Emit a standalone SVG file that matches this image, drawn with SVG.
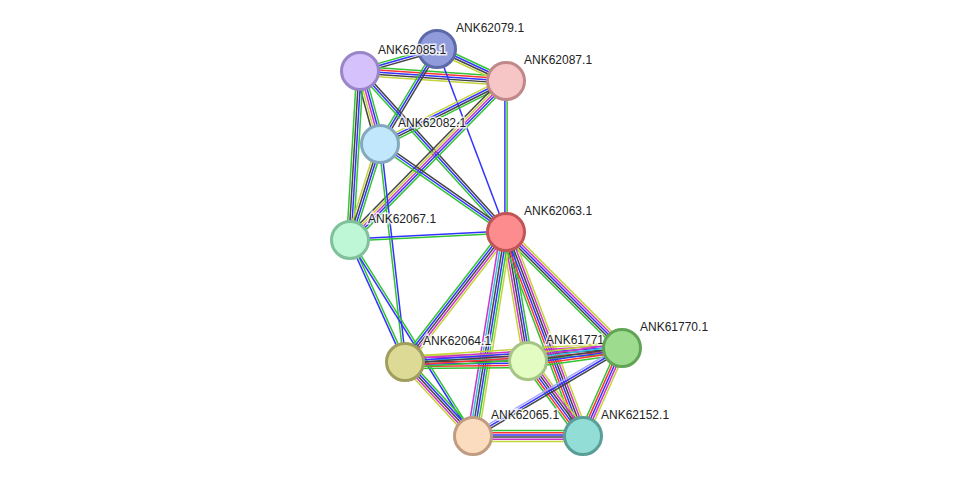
<svg xmlns="http://www.w3.org/2000/svg" width="976" height="482" viewBox="0 0 976 482">
<style>
path{fill:none;stroke-width:1.5}
.y{stroke:#c4d43a}.g{stroke:#33c433}.b{stroke:#3333ff}.k{stroke:#444}.m{stroke:#cc33cc}.r{stroke:#ff3333}.c{stroke:#33c0e0}.lb{stroke:#a8a8ff}
.n{stroke-width:3}
text{font-family:"Liberation Sans",Arial,sans-serif;font-size:12px;fill:#222;stroke:#fff;stroke-width:3;stroke-opacity:.8;paint-order:stroke}
</style>
<rect width="976" height="482" fill="#fff"/>
<g id="edges">
<g transform="translate(360 71) rotate(-15.9)"><path class="g" d="M0 -2.2H80"/><path class="b" d="M0 0H80"/><path class="k" d="M0 2.2H80"/></g>
<g transform="translate(360 71) rotate(3.9)"><path class="g" d="M0 -4.4H146"/><path class="r" d="M0 -2.2H146"/><path class="b" d="M0 0H146"/><path class="k" d="M0 2.2H146"/><path class="y" d="M0 4.4H146"/></g>
<g transform="translate(437 49) rotate(24.9)"><path class="g" d="M0 -3.3H76"/><path class="b" d="M0 -1.1H76"/><path class="k" d="M0 1.1H76"/><path class="y" d="M0 3.3H76"/></g>
<g transform="translate(437 49) rotate(121)"><path class="k" d="M0 -2.2H111"/><path class="b" d="M0 0H111"/><path class="g" d="M0 2.2H111"/></g>
<g transform="translate(437 49) rotate(69.3)"><path class="b" d="M0 0H196"/></g>
<g transform="translate(360 71) rotate(74.7)"><path class="g" d="M0 -4.4H76"/><path class="b" d="M0 -2.2H76"/><path class="m" d="M0 0H76"/><path class="y" d="M0 2.2H76"/><path class="k" d="M0 4.4H76"/></g>
<g transform="translate(360 71) rotate(93.4)"><path class="g" d="M0 -3.3H169"/><path class="b" d="M0 -1.1H169"/><path class="k" d="M0 1.1H169"/><path class="g" d="M0 3.3H169"/></g>
<g transform="translate(360 71) rotate(47.8)"><path class="k" d="M0 -2.2H217"/><path class="b" d="M0 0H217"/><path class="g" d="M0 2.2H217"/></g>
<g transform="translate(506 81) rotate(153.4)"><path class="g" d="M0 -3.3H141"/><path class="k" d="M0 -1.1H141"/><path class="b" d="M0 1.1H141"/><path class="y" d="M0 3.3H141"/></g>
<g transform="translate(506 81) rotate(134.5)"><path class="g" d="M0 -4.4H223"/><path class="b" d="M0 -2.2H223"/><path class="m" d="M0 0H223"/><path class="y" d="M0 2.2H223"/><path class="k" d="M0 4.4H223"/></g>
<g transform="translate(506 81) rotate(90)"><path class="g" d="M0 -1.1H151"/><path class="b" d="M0 1.1H151"/></g>
<g transform="translate(380 144) rotate(107.4)"><path class="g" d="M0 -3.3H101"/><path class="b" d="M0 -1.1H101"/><path class="k" d="M0 1.1H101"/><path class="y" d="M0 3.3H101"/></g>
<g transform="translate(380 144) rotate(34.9)"><path class="k" d="M0 -2.2H154"/><path class="b" d="M0 0H154"/><path class="g" d="M0 2.2H154"/></g>
<g transform="translate(380 144) rotate(83.5)"><path class="b" d="M0 -1.1H219"/><path class="g" d="M0 1.1H219"/></g>
<g transform="translate(350 240) rotate(-2.9)"><path class="b" d="M0 -1.1H156"/><path class="g" d="M0 1.1H156"/></g>
<g transform="translate(350 240) rotate(65.7)"><path class="g" d="M0 -1.1H134"/><path class="b" d="M0 1.1H134"/></g>
<g transform="translate(350 240) rotate(57.9)"><path class="g" d="M0 -1.1H231"/><path class="b" d="M0 1.1H231"/></g>
<g transform="translate(506 232) rotate(127.8)"><path class="y" d="M0 -4.4H165"/><path class="m" d="M0 -2.2H165"/><path class="k" d="M0 0H165"/><path class="b" d="M0 2.2H165"/><path class="g" d="M0 4.4H165"/></g>
<g transform="translate(506 232) rotate(80.3)"><path class="g" d="M0 -4.4H131"/><path class="b" d="M0 -2.2H131"/><path class="k" d="M0 0H131"/><path class="m" d="M0 2.2H131"/><path class="y" d="M0 4.4H131"/></g>
<g transform="translate(506 232) rotate(45)"><path class="y" d="M0 -4.4H164"/><path class="m" d="M0 -2.2H164"/><path class="b" d="M0 0H164"/><path class="k" d="M0 2.2H164"/><path class="g" d="M0 4.4H164"/></g>
<g transform="translate(506 232) rotate(99.2)"><path class="y" d="M0 -5.5H207"/><path class="g" d="M0 -3.3H207"/><path class="b" d="M0 -1.1H207"/><path class="k" d="M0 1.1H207"/><path class="c" d="M0 3.3H207"/><path class="m" d="M0 5.5H207"/></g>
<g transform="translate(506 232) rotate(69.3)"><path class="y" d="M0 -5.5H218"/><path class="m" d="M0 -3.3H218"/><path class="k" d="M0 -1.1H218"/><path class="b" d="M0 1.1H218"/><path class="r" d="M0 3.3H218"/><path class="g" d="M0 5.5H218"/></g>
<g transform="translate(405 362) rotate(-0.5)"><path class="y" d="M0 -6.6H123"/><path class="m" d="M0 -4.4H123"/><path class="c" d="M0 -2.2H123"/><path class="k" d="M0 0H123"/><path class="b" d="M0 2.2H123"/><path class="r" d="M0 4.4H123"/><path class="g" d="M0 6.6H123"/></g>
<g transform="translate(405 362) rotate(-3.7)"><path class="y" d="M0 -5.5H217"/><path class="m" d="M0 -3.3H217"/><path class="b" d="M0 -1.1H217"/><path class="k" d="M0 1.1H217"/><path class="r" d="M0 3.3H217"/><path class="g" d="M0 5.5H217"/></g>
<g transform="translate(405 362) rotate(47.4)"><path class="g" d="M0 -4.4H100"/><path class="b" d="M0 -2.2H100"/><path class="k" d="M0 0H100"/><path class="m" d="M0 2.2H100"/><path class="y" d="M0 4.4H100"/></g>
<g transform="translate(528 361) rotate(-7.9)"><path class="y" d="M0 -6.6H95"/><path class="m" d="M0 -4.4H95"/><path class="c" d="M0 -2.2H95"/><path class="k" d="M0 0H95"/><path class="b" d="M0 2.2H95"/><path class="r" d="M0 4.4H95"/><path class="g" d="M0 6.6H95"/></g>
<g transform="translate(528 361) rotate(53.7)"><path class="y" d="M0 -5.5H93"/><path class="m" d="M0 -3.3H93"/><path class="k" d="M0 -1.1H93"/><path class="b" d="M0 1.1H93"/><path class="r" d="M0 3.3H93"/><path class="g" d="M0 5.5H93"/></g>
<g transform="translate(622 348) rotate(149.4)"><path class="k" d="M0 -2.2H173"/><path class="b" d="M0 0H173"/><path class="lb" d="M0 2.2H173"/></g>
<g transform="translate(622 348) rotate(113.9)"><path class="y" d="M0 -4.4H96"/><path class="m" d="M0 -2.2H96"/><path class="b" d="M0 0H96"/><path class="r" d="M0 2.2H96"/><path class="g" d="M0 4.4H96"/></g>
<g transform="translate(473 436)"><path class="g" d="M0 -5.5H110"/><path class="r" d="M0 -3.3H110"/><path class="b" d="M0 -1.1H110"/><path class="k" d="M0 1.1H110"/><path class="m" d="M0 3.3H110"/><path class="y" d="M0 5.5H110"/></g>
</g>
<g id="n79"><circle class="n" cx="437" cy="49" r="18.5" fill="#8f9bdb" stroke="#5d6aa8"/><text x="456" y="32">ANK62079.1</text></g>
<g id="n85"><circle class="n" cx="360" cy="71" r="18.5" fill="#d5c1fb" stroke="#9a85c8"/><text x="378" y="54">ANK62085.1</text></g>
<g id="n87"><circle class="n" cx="506" cy="81" r="18.5" fill="#f6c6c6" stroke="#c08888"/><text x="524" y="64">ANK62087.1</text></g>
<g id="n82"><circle class="n" cx="380" cy="144" r="18.5" fill="#c0e7fb" stroke="#84a9bf"/><text x="398" y="127">ANK62082.1</text></g>
<g id="n67"><circle class="n" cx="350" cy="240" r="18.5" fill="#bdf7d6" stroke="#80c09a"/><text x="368" y="223">ANK62067.1</text></g>
<g id="n63"><circle class="n" cx="506" cy="232" r="18.5" fill="#fc8c8e" stroke="#c05456"/><text x="524" y="215">ANK62063.1</text></g>
<g id="n64"><circle class="n" cx="405" cy="362" r="18.5" fill="#dcda95" stroke="#a09e5c"/><text x="423" y="345">ANK62064.1</text></g>
<g id="n71"><circle class="n" cx="528" cy="361" r="18.5" fill="#e2fcc2" stroke="#a6c486"/><text x="546" y="344">ANK61771.1</text></g>
<g id="n70"><circle class="n" cx="622" cy="348" r="18.5" fill="#9ddc8f" stroke="#62a456"/><text x="640" y="331">ANK61770.1</text></g>
<g id="n65"><circle class="n" cx="473" cy="436" r="18.5" fill="#fcdcbe" stroke="#c09c80"/><text x="491" y="419">ANK62065.1</text></g>
<g id="n52"><circle class="n" cx="583" cy="436" r="18.5" fill="#92ddd5" stroke="#5a9e98"/><text x="601" y="419">ANK62152.1</text></g>
</svg>
